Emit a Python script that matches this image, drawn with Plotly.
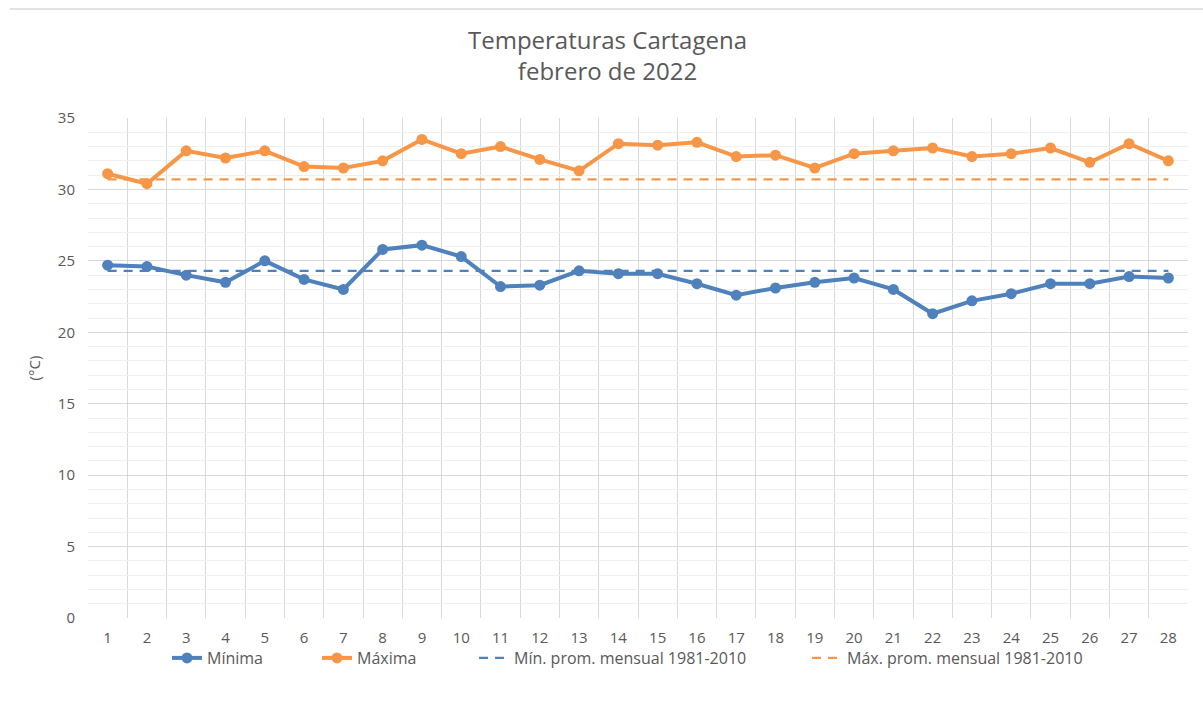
import plotly.graph_objects as go

days = list(range(1, 29))
minima = [24.7, 24.6, 24.0, 23.5, 25.0, 23.7, 23.0, 25.8, 26.1, 25.3, 23.2, 23.3, 24.3, 24.1,
          24.1, 23.4, 22.6, 23.1, 23.5, 23.8, 23.0, 21.3, 22.2, 22.7, 23.4, 23.4, 23.9, 23.8]
maxima = [31.1, 30.4, 32.7, 32.2, 32.7, 31.6, 31.5, 32.0, 33.5, 32.5, 33.0, 32.1, 31.3, 33.2,
          33.1, 33.3, 32.3, 32.4, 31.5, 32.5, 32.7, 32.9, 32.3, 32.5, 32.9, 31.9, 33.2, 32.0]
min_avg = [24.3] * 28
max_avg = [30.7] * 28

blue = "#4F81BD"
orange = "#F79646"
font = "Open Sans, Liberation Sans, sans-serif"
txt = "#595959"

fig = go.Figure()
fig.add_trace(go.Scatter(x=days, y=minima, name="Mínima", mode="lines+markers", legend="legend",
                         showlegend=True,
                         line=dict(color=blue, width=4), marker=dict(size=11, color=blue)))
fig.add_trace(go.Scatter(x=days, y=maxima, name="Máxima", mode="lines+markers", legend="legend2",
                         showlegend=True,
                         line=dict(color=orange, width=4), marker=dict(size=11, color=orange)))
fig.add_trace(go.Scatter(x=days, y=min_avg, name="Mín. prom. mensual 1981-2010", mode="lines",
                         legend="legend3", showlegend=True,
                         line=dict(color=blue, width=2.25, dash="9px,7px")))
fig.add_trace(go.Scatter(x=days, y=max_avg, name="Máx. prom. mensual 1981-2010", mode="lines",
                         legend="legend4", showlegend=True,
                         line=dict(color=orange, width=2.25, dash="9px,7px")))

def leg(xpix):
    return dict(orientation="h", x=(xpix - 88) / 1100, xanchor="left", y=-0.08,
                yanchor="middle", font=dict(size=16, color=txt), bgcolor="rgba(0,0,0,0)")

fig.update_layout(
    width=1203, height=702, showlegend=True,
    paper_bgcolor="white", plot_bgcolor="white",
    margin=dict(l=88, r=15, t=118, b=84),
    font=dict(family=font, size=15, color=txt),
    title=dict(text="Temperaturas Cartagena<br>febrero de 2022", x=0.505, xanchor="center",
               yref="container", y=0.93, yanchor="top", font=dict(size=24, color=txt)),
    legend=leg(167), legend2=leg(317), legend3=leg(474), legend4=leg(807),
    shapes=[dict(type="line", xref="paper", yref="paper", x0=-0.071, x1=1.02, y0=1.218, y1=1.218,
                 line=dict(color="#d9d9d9", width=1.5))],
)
fig.update_xaxes(range=[0.5, 28.5], tickvals=days, ticktext=[str(d) for d in days],
                 showgrid=False, zeroline=False, showline=False, ticks="", automargin=False,
                 tickfont=dict(size=15, color=txt), ticklabelstandoff=9,
                 minor=dict(tickvals=[d - 0.5 for d in range(1, 30)], showgrid=True,
                            gridcolor="#d9d9d9", gridwidth=1, ticks=""))
fig.update_yaxes(range=[0, 35], dtick=5, showgrid=True, gridcolor="#d9d9d9", gridwidth=1.2,
                 zeroline=False, showline=False, ticks="", automargin=False,
                 tickfont=dict(size=15, color=txt), ticklabelstandoff=12,
                 title=dict(text="(°C)", font=dict(size=15, color=txt), standoff=13),
                 minor=dict(dtick=1, showgrid=True, gridcolor="#efefef", gridwidth=1))

fig.write_html("out.html", config={"displayModeBar": False},
               post_script="document.body.style.margin='0';")
